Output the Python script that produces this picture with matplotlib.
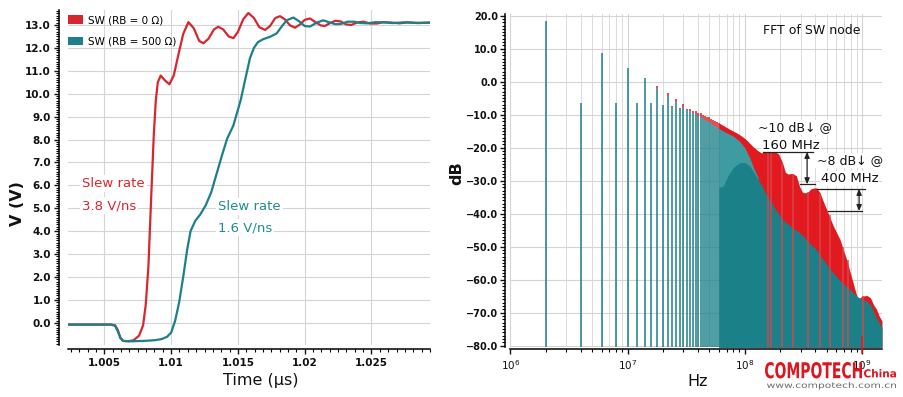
import numpy as np
import matplotlib
matplotlib.use("Agg")
import matplotlib.pyplot as plt
from matplotlib.patches import Patch, PathPatch
from matplotlib.ticker import MultipleLocator, FixedLocator, FuncFormatter, LogLocator, NullFormatter
from matplotlib.textpath import TextPath
from matplotlib.font_manager import FontProperties
from matplotlib.transforms import Affine2D

plt.rcParams['font.family'] = ['DejaVu Sans']

RED = '#d7262d'
TEAL = '#1b8088'
FILL_RED = '#e2191e'
MID_TEAL = '#3d9ba1'
GRID = '#d4d4d4'

# ---- left panel: switching waveform (time in us, volts) ----
t_rb0 = [1.0023, 1.0055, 1.0058, 1.0060, 1.0062, 1.0064, 1.0068, 1.0072, 1.0076, 1.0079,
         1.0081, 1.0083, 1.0085, 1.0087, 1.00885, 1.0090, 1.00922, 1.0095, 1.00987, 1.0102,
         1.01054, 1.0109, 1.01129, 1.0117, 1.0121, 1.01241, 1.0128, 1.0132, 1.01353, 1.0139,
         1.0143, 1.01466, 1.0150, 1.0154, 1.01578, 1.0162, 1.0166, 1.01703, 1.0174, 1.0178,
         1.01815, 1.0185, 1.0189, 1.01927, 1.0196, 1.0200, 1.0204, 1.0208, 1.0212, 1.0215,
         1.0219, 1.0223, 1.0227, 1.0231, 1.0235, 1.0239, 1.0244, 1.0249, 1.0254, 1.0259,
         1.0265, 1.0271, 1.0277, 1.0285, 1.0294]
v_rb0 = [-0.07, -0.07, -0.1, -0.3, -0.65, -0.78, -0.8, -0.75, -0.55, -0.1,
         0.8, 2.5, 5.4, 8.2, 9.7, 10.5, 10.79, 10.6, 10.41, 10.8,
         11.7, 12.6, 13.12, 12.85, 12.3, 12.2, 12.4, 12.8, 12.92, 12.8,
         12.5, 12.42, 12.7, 13.25, 13.52, 13.3, 12.9, 12.78, 12.95, 13.3,
         13.38, 13.25, 12.98, 12.88, 13.0, 13.22, 13.28, 13.12, 12.98, 12.95,
         13.08, 13.18, 13.15, 13.02, 13.0, 13.1, 13.14, 13.06, 13.06, 13.12,
         13.1, 13.07, 13.11, 13.08, 13.1]

t_rb500 = [1.0023, 1.0055, 1.0058, 1.0060, 1.0062, 1.0064, 1.0070, 1.0080, 1.0088, 1.0093,
           1.0097, 1.0100, 1.0103, 1.0106, 1.0109, 1.0112, 1.01145, 1.0118, 1.0122, 1.0126,
           1.0130, 1.0134, 1.0138, 1.0142, 1.01465, 1.0150, 1.01521, 1.0155, 1.0159, 1.0162,
           1.0165, 1.0169, 1.0174, 1.0179, 1.0183, 1.01865, 1.01915, 1.0196, 1.0200, 1.0204,
           1.0209, 1.02139, 1.0218, 1.0223, 1.0227, 1.0232, 1.0237, 1.0242, 1.0247, 1.0253,
           1.0259, 1.0266, 1.0274, 1.0284, 1.0294]
v_rb500 = [-0.07, -0.07, -0.12, -0.35, -0.65, -0.78, -0.8, -0.78, -0.75, -0.7,
           -0.6, -0.42, 0.1, 0.9, 2.0, 3.2, 4.0, 4.45, 4.75, 5.15,
           5.7, 6.5, 7.3, 8.05, 8.6, 9.3, 9.73, 10.5, 11.55, 12.0,
           12.25, 12.38, 12.48, 12.63, 12.95, 13.2, 13.32, 13.15, 12.95, 12.93,
           13.1, 13.2, 13.12, 13.03, 13.04, 13.14, 13.14, 13.08, 13.07, 13.12,
           13.11, 13.08, 13.11, 13.09, 13.1]

series_labels = ['SW (RB = 0 \u03a9)', 'SW (RB = 500 \u03a9)']
time_ticks = [1.005, 1.01, 1.015, 1.02, 1.025]

# ---- right panel: FFT, discrete harmonics (MHz, dB) ----
harm_f = [2, 4, 6, 8, 10, 12, 14, 16, 18, 20, 22, 24, 26, 28, 30,
          32, 34, 36, 38, 40, 42, 44, 46, 48, 50, 52, 54, 56, 58, 60]
harm_rb0 = [18.5, -6.5, 8.7, -6.5, 4.1, -6.5, 1.0, -6.6, -1.3, -7.0, -3.4, -7.4, -5.2, -8.0, -6.8,
            -8.3, -8.2, -9.0, -8.8, -9.4, -9.6, -10.0, -10.3, -10.6, -10.8, -11.2, -11.5, -11.8, -12.2, -12.5]
harm_rb500 = [18.5, -6.5, 8.7, -6.5, 4.1, -6.5, 1.0, -6.6, -2.0, -7.2, -4.3, -7.6, -6.2, -8.2, -7.8,
              -8.6, -9.0, -9.6, -9.8, -10.3, -10.7, -11.0, -11.5, -11.8, -12.3, -12.6, -13.0, -13.4, -13.8, -14.2]

# dense part of the spectrum, read as envelopes (MHz, dB)
env_rb0_f = [60, 65, 75, 85, 95, 103, 117, 130, 139, 150, 165, 180, 195, 210, 222, 235, 255, 275,
             293, 310, 325, 345, 365, 390, 410, 425, 437, 470, 500, 570, 650, 740, 840, 920,
             960, 1000, 1100, 1180, 1250, 1330, 1400, 1480]
env_rb0_db = [-12.5, -13.2, -14.5, -15.5, -16.6, -17.6, -19.6, -21.0, -21.6, -21.2, -21.0, -21.1, -22.0,
              -24.6, -27.5, -28.0, -27.8, -28.5, -31.7, -33.5, -33.7, -33.5, -32.5, -32.2, -32.2, -33.0,
              -33.6, -36.5, -38.8, -43.8, -47.9, -54.0, -61.0, -66.0, -65.5, -65.0, -64.8, -65.5,
              -67.5, -69.0, -71.0, -72.5]
env_rb500_hi_f = [60, 70, 80, 90, 100, 110, 120, 130]
env_rb500_hi_db = [-14.2, -15.5, -16.5, -18.0, -20.0, -23.0, -26.5, -29.0]
env_rb500_f = [60, 65, 72, 80, 90, 100, 110, 125, 140, 150, 164, 185, 210, 250, 295, 350, 410, 490,
               570, 680, 790, 900, 1000, 1100, 1200, 1300, 1400, 1480]
env_rb500_db = [-32.0, -31.8, -28.5, -26.0, -24.6, -24.5, -25.5, -28.7, -31.5, -33.7, -35.8, -39.0,
                -41.8, -44.0, -45.8, -48.5, -51.0, -55.0, -58.0, -61.0, -63.0, -65.0, -66.0, -66.5,
                -68.0, -71.0, -73.0, -74.5]
spike_f = [157, 167, 209, 257, 344, 437, 530, 684, 754, 1010]
spike_db = [-21.0, -21.0, -24.6, -28.0, -33.5, -33.6, -40.5, -50.0, -54.0, -65.0]

# annotation levels (dB)
ann1_top, ann1_bot = -21.3, -31.1
ann2_top, ann2_bot = -32.5, -39.2

fig = plt.figure(figsize=(9.04, 3.97), dpi=100)
W, H = 904.0, 397.0

# ---------------- left panel ----------------
ax = fig.add_axes([68.3 / W, 52 / H, 361.7 / W, 335 / H])
ax.plot(t_rb0, v_rb0, color=RED, lw=1.6, zorder=3)
ax.plot(t_rb500, v_rb500, color=TEAL, lw=1.6, zorder=4)
ax.set_xlim(1.0023, 1.02938)
ax.set_ylim(-0.96, 13.65)
ax.xaxis.set_major_locator(FixedLocator(time_ticks))
ax.xaxis.set_minor_locator(MultipleLocator(0.000625))
ax.xaxis.set_major_formatter(FuncFormatter(lambda v, p: '%g' % round(v, 4)))
ax.yaxis.set_major_locator(MultipleLocator(1.0))
ax.yaxis.set_minor_locator(MultipleLocator(0.1))
ax.yaxis.set_major_formatter(FuncFormatter(lambda v, p: '%.1f' % v))
ax.grid(True, which='major', color=GRID, lw=0.8)
ax.set_axisbelow(True)
for s in ['top', 'right']:
    ax.spines[s].set_visible(False)
ax.spines['left'].set_position(('outward', 6.5))
ax.spines['bottom'].set_position(('outward', 3))
for s in ['left', 'bottom']:
    ax.spines[s].set_linewidth(1.1)
ax.tick_params(axis='both', which='major', direction='out', length=3.5, width=1.0,
               labelsize=7.5, colors='#111111', pad=2.5)
ax.tick_params(axis='both', which='minor', direction='out', length=2.5, width=0.8)
for lab in ax.get_xticklabels() + ax.get_yticklabels():
    lab.set_fontweight('bold')

leg = ax.legend(handles=[Patch(fc=RED, ec='none'), Patch(fc=TEAL, ec='none')],
                labels=series_labels, loc='upper left', bbox_to_anchor=(0.0, 0.985),
                frameon=False, fontsize=7.5, handlelength=1.4, handleheight=0.85,
                handletextpad=0.45, labelspacing=1.1, borderpad=0, borderaxespad=0)

bb = dict(fc='white', ec='none', pad=1.5)
ax.text(1.00333, 6.07, 'Slew rate', color=RED, fontsize=9.5, va='center', ha='left', bbox=bb)
ax.text(1.00333, 5.11, '3.8 V/ns', color=RED, fontsize=9.5, va='center', ha='left', bbox=bb)
ax.text(1.01351, 5.07, 'Slew rate', color='#1f8b92', fontsize=9.5, va='center', ha='left', bbox=bb)
ax.text(1.01351, 4.15, '1.6 V/ns', color='#1f8b92', fontsize=9.5, va='center', ha='left', bbox=bb)

fig.text(18 / W, 1 - 204 / H, 'V (V)', rotation=90, fontsize=11.5, fontweight='bold',
         ha='center', va='center', color='#111111')
fig.text(261 / W, 1 - 380 / H, 'Time (\u00b5s)', fontsize=11.5, ha='center', va='center',
         color='#111111')

# ---------------- right panel ----------------
ax2 = fig.add_axes([510.3 / W, 49.7 / H, 371.7 / W, 333.3 / H])
ax2.set_xscale('log')
ax2.set_xlim(1e6, 1.48e9)
ax2.set_ylim(-80.5, 20.5)
base = -80.5

hf = np.array(harm_f) * 1e6
r0 = np.array(harm_rb0)
r5 = np.array(harm_rb500)
up = r0 > r5
# red only shows above the teal bar of the same harmonic
ax2.vlines(hf[up], r5[up], r0[up], color=FILL_RED, lw=1.1, zorder=3)
ax2.vlines(hf, base, r5, color=TEAL, lw=1.1, zorder=3)

ax2.fill_between(np.array(env_rb0_f) * 1e6, base, env_rb0_db, color=FILL_RED, lw=0, zorder=2)
ax2.fill_between(np.array(env_rb500_hi_f) * 1e6, base, env_rb500_hi_db, color=MID_TEAL, lw=0, zorder=3)
ax2.fill_between(np.array(env_rb500_f) * 1e6, base, env_rb500_db, color=TEAL, lw=0, zorder=3)
ax2.vlines(np.array(spike_f) * 1e6, base, spike_db, color='#d9474c', lw=1.2, alpha=0.85, zorder=4)

ax2.xaxis.set_major_locator(LogLocator(base=10, numticks=10))
ax2.xaxis.set_minor_locator(LogLocator(base=10, subs=np.arange(2, 10), numticks=20))
ax2.xaxis.set_minor_formatter(NullFormatter())
ax2.yaxis.set_major_locator(MultipleLocator(10))
ax2.yaxis.set_minor_locator(MultipleLocator(1))
ax2.yaxis.set_major_formatter(FuncFormatter(lambda v, p: ('%.1f' % v).replace('-', '\u2212')))
ax2.grid(True, which='major', color=GRID, lw=0.8)
ax2.grid(True, which='minor', axis='x', color=GRID, lw=0.6)
ax2.set_axisbelow(True)
for s in ['top', 'right']:
    ax2.spines[s].set_visible(False)
ax2.spines['left'].set_position(('outward', 4))
ax2.spines['bottom'].set_position(('outward', 1.5))
for s in ['left', 'bottom']:
    ax2.spines[s].set_linewidth(1.1)
ax2.tick_params(axis='both', which='major', direction='out', length=3.5, width=1.0,
                labelsize=7.5, colors='#111111', pad=2.5)
ax2.tick_params(axis='y', which='major', labelsize=7, pad=1.5)
ax2.tick_params(axis='both', which='minor', direction='out', length=2.5, width=0.8)
for lab in ax2.get_yticklabels():
    lab.set_fontweight('bold')

ax2.plot([1e9, 1e9], [-77.5, -82.3], color=FILL_RED, lw=1.1, clip_on=False, zorder=6)

ax2.text(370e6, 15.4, 'FFT of SW node', fontsize=9, ha='center', va='center', color='#111111')

tb = dict(fc='white', ec='none', pad=0.8)
ax2.text(266e6, -14.0, '~10 dB\u2193 @', fontsize=9, ha='center', va='center', color='#111111',
         bbox=tb, zorder=7)
ax2.text(246e6, -19.2, '160 MHz', fontsize=9.5, ha='center', va='center', color='#111111',
         bbox=tb, zorder=7)
ax2.text(783e6, -24.0, '~8 dB\u2193 @', fontsize=9, ha='center', va='center', color='#111111',
         bbox=tb, zorder=7)
ax2.text(780e6, -29.3, '400 MHz', fontsize=9.5, ha='center', va='center', color='#111111',
         bbox=tb, zorder=7)

lk = dict(color='#222222', lw=0.9, zorder=8)
ax2.plot([143e6, 383e6], [ann1_top, ann1_top], **lk)
ax2.plot([296e6, 398e6], [ann1_bot, ann1_bot], **lk)
ax2.plot([409e6, 1056e6], [ann2_top, ann2_top], **lk)
ax2.plot([509e6, 1000e6], [ann2_bot, ann2_bot], **lk)
arr = dict(arrowstyle='<|-|>,head_length=0.35,head_width=0.15', color='#222222', lw=0.9,
           shrinkA=0, shrinkB=0)
ax2.annotate('', xy=(340e6, ann1_top), xytext=(340e6, ann1_bot), arrowprops=arr, zorder=8)
ax2.annotate('', xy=(944e6, ann2_top), xytext=(944e6, ann2_bot), arrowprops=arr, zorder=8)

fig.text(457 / W, 1 - 173 / H, 'dB', rotation=90, fontsize=11.5, fontweight='bold',
         ha='center', va='center', color='#111111')
fig.text(698 / W, 1 - 381 / H, 'Hz', fontsize=11.5, ha='center', va='center', color='#111111')


# ---- watermark, stretched to its box in pixels ----
def stamp(text, x0, top, w, h, color, weight='bold', family='DejaVu Sans'):
    tp = TextPath((0, 0), text, size=10, prop=FontProperties(family=family, weight=weight))
    e = tp.get_extents()
    tr = Affine2D().translate(-e.x0, -e.y0).scale(w / e.width, h / e.height).translate(x0, H - top - h)
    fig.add_artist(PathPatch(tp, transform=tr, fc=color, ec='none'))


stamp('COMPOTECH', 765, 362, 97, 16.5, '#e0141e')
stamp('China', 864, 369, 32, 8.5, '#e0141e')
stamp('www.compotech.com.cn', 767, 382, 129, 7.5, '#6a6a6a', weight='normal')

fig.savefig('out.png', dpi=100)
